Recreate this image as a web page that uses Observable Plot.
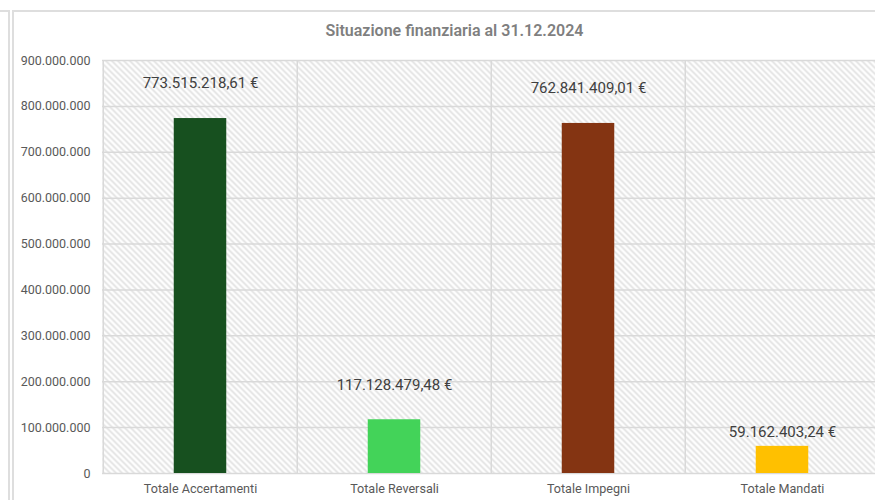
<!DOCTYPE html>
<html>
<head>
<meta charset="utf-8">
<script src="https://cdn.jsdelivr.net/npm/d3@7"></script>
<script src="https://cdn.jsdelivr.net/npm/@observablehq/plot@0.6"></script>
<style>
  html, body { margin: 0; padding: 0; background: #fff; }
  #wrap { position: relative; width: 875px; height: 500px; overflow: hidden; font-family: Roboto, "Open Sans", sans-serif; }
  .ln { position: absolute; background: #dedede; }
  #title { position: absolute; top: 21px; left: 0; width: 909px; text-align: center; font: 600 16px Roboto, sans-serif; color: #7f7f7f; }
  #chart { position: absolute; top: 45px; left: 0; }
  #chart svg { background: transparent !important; }
</style>
</head>
<body>
<div id="wrap">
  <div class="ln" style="left:0;top:10px;width:9px;height:2px"></div>
  <div class="ln" style="left:8px;top:10px;width:2px;height:490px"></div>
  <div class="ln" style="left:12px;top:10px;width:2px;height:490px"></div>
  <div class="ln" style="left:12px;top:10px;width:863px;height:2px"></div>
  <div id="title">Situazione finanziaria al 31.12.2024</div>
  <div id="chart"></div>
</div>
<script>
const categories = ["Totale Accertamenti", "Totale Reversali", "Totale Impegni", "Totale Mandati"];
const values = [773515218.61, 117128479.48, 762841409.01, 59162403.24];
const colors = ["#17501f", "#43d359", "#843412", "#ffc000"];
const yTicks = [0, 100000000, 200000000, 300000000, 400000000, 500000000, 600000000, 700000000, 800000000, 900000000];

const it = d3.formatLocale({decimal: ",", thousands: ".", grouping: [3], currency: ["", " €"]});
const fmtInt = it.format(",d");
const fmtEur = v => it.format(",.2f")(v) + " €";

const data = categories.map((c, i) => ({cat: c, value: values[i], color: colors[i]}));

const xRange = [102, 880];
const band = (xRange[1] - xRange[0]) / categories.length;
const barW = 53;
const inset = (band - barW) / 2;

const plot = Plot.plot({
  width: 875,
  height: 455,
  marginTop: 15,
  marginBottom: 27,
  marginLeft: 102,
  marginRight: 0,
  style: {fontFamily: "Roboto, sans-serif", background: "transparent"},
  x: {domain: categories, range: xRange, padding: 0},
  y: {domain: [0, 900000000], range: [428, 15]},
  marks: [
    Plot.frame({fill: "url(#hatch)", stroke: null}),
    Plot.ruleY(yTicks, {stroke: "#d9d9d9", strokeWidth: 1.5}),
    Plot.ruleX(categories, {x: d => d, dx: -band / 2, stroke: "#d9d9d9", strokeWidth: 1.5}),
    Plot.barY(data, {x: "cat", y: "value", fill: "color", insetLeft: inset, insetRight: inset}),
    Plot.text(data.filter(d => d.value > 100000000), {x: "cat", y: "value", text: d => fmtEur(d.value), dy: -35, fontSize: 15, fill: "#404040"}),
    Plot.text(data.filter(d => d.value <= 100000000), {x: "cat", y: "value", text: d => fmtEur(d.value), dy: -14, fontSize: 15, fill: "#404040"}),
    Plot.axisY({ticks: yTicks, tickSize: 0, tickPadding: 12, tickFormat: fmtInt, fontSize: 12.5, color: "#595959", label: null}),
    Plot.axisX({tickSize: 0, tickPadding: 11, fontSize: 12.6, color: "#595959", label: null})
  ]
});

const ns = "http://www.w3.org/2000/svg";
const defs = document.createElementNS(ns, "defs");
defs.innerHTML = '<pattern id="hatch" patternUnits="userSpaceOnUse" width="6" height="6">' +
  '<rect width="6" height="6" fill="#ffffff"/>' +
  '<path d="M-2,-2 L8,8 M4,-2 L8,2 M-2,4 L2,8" stroke="#e0e0e0" stroke-width="1.6"/>' +
  '</pattern>';
plot.insertBefore(defs, plot.firstChild);
document.getElementById("chart").appendChild(plot);
</script>
</body>
</html>
